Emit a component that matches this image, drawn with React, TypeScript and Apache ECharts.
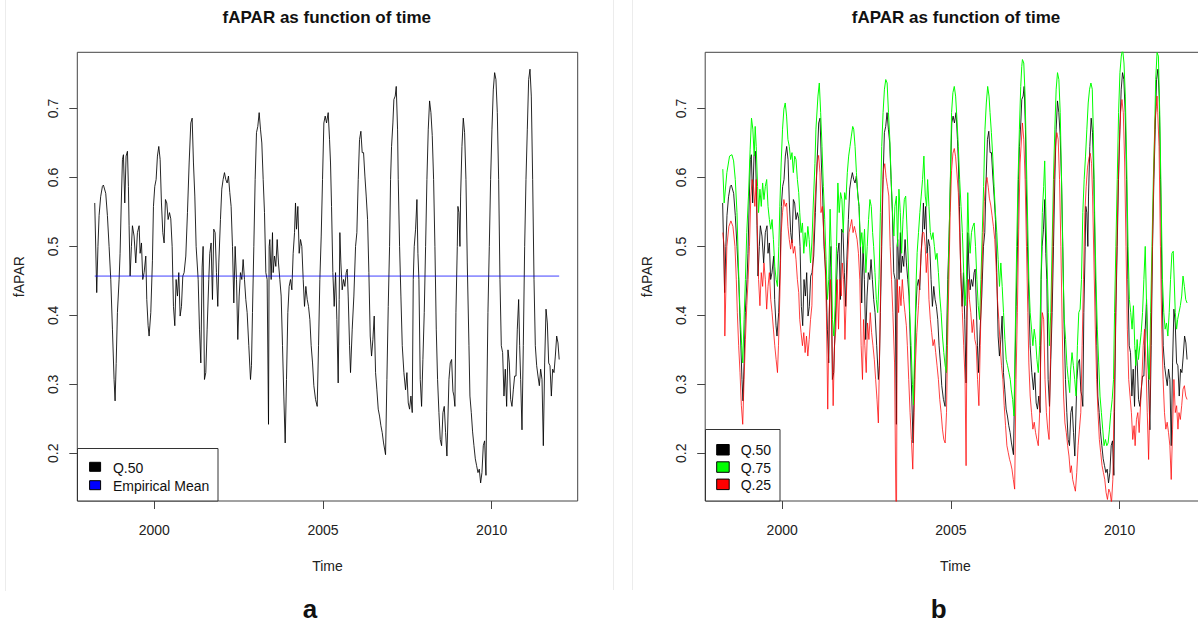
import React, { useEffect, useRef } from "react";
import * as echarts from "echarts";

// ---------- axis ticks / labels ----------
const X_TICKS = [2000, 2005, 2010];
const Y_TICKS = [0.2, 0.3, 0.4, 0.5, 0.6, 0.7];
const TITLE = "fAPAR as function of time";
const X_NAME = "Time";
const Y_NAME = "fAPAR";
const EMPIRICAL_MEAN = 0.457;

// ---------- Q.50 (median) : [time, fAPAR] ----------
const q50Part1: [number, number][] = [[1998.235,0.563],[1998.294,0.433],[1998.33,0.5],[1998.364,0.545],[1998.41,0.572],[1998.462,0.587],[1998.492,0.589],[1998.561,0.577],[1998.61,0.545],[1998.66,0.5],[1998.71,0.452],[1998.759,0.38],[1998.808,0.307],[1998.838,0.276],[1998.87,0.33],[1998.907,0.404],[1998.957,0.452],[1998.986,0.49],[1999.02,0.56],[1999.056,0.626],[1999.085,0.633],[1999.125,0.563],[1999.164,0.631],[1999.204,0.638],[1999.233,0.587],[1999.253,0.53],[1999.283,0.457],[1999.322,0.5],[1999.352,0.53],[1999.401,0.515],[1999.451,0.476],[1999.5,0.52],[1999.55,0.53],[1999.58,0.49],[1999.62,0.505],[1999.658,0.452],[1999.698,0.462],[1999.748,0.486],[1999.777,0.423],[1999.817,0.385],[1999.846,0.37],[1999.896,0.404],[1999.945,0.48],[1999.975,0.558],[2000.014,0.587],[2000.054,0.597],[2000.093,0.631],[2000.133,0.645],[2000.173,0.626],[2000.212,0.563],[2000.252,0.52],[2000.291,0.505],[2000.331,0.568],[2000.37,0.563],[2000.41,0.539],[2000.45,0.549],[2000.489,0.54],[2000.529,0.5],[2000.568,0.413],[2000.608,0.385],[2000.647,0.452],[2000.687,0.428],[2000.726,0.462],[2000.766,0.399],[2000.805,0.413],[2000.845,0.457],[2000.884,0.462],[2000.934,0.486],[2000.983,0.549],[2001.033,0.621],[2001.082,0.679],[2001.122,0.686],[2001.161,0.621],[2001.201,0.573],[2001.24,0.5],[2001.3,0.452],[2001.339,0.38],[2001.379,0.331],[2001.418,0.47],[2001.447,0.5],[2001.487,0.307]];
const q50Part2: [number, number][] = [[2001.526,0.317],[2001.566,0.38],[2001.615,0.452],[2001.645,0.49],[2001.684,0.505],[2001.724,0.423],[2001.763,0.525],[2001.803,0.52],[2001.842,0.462],[2001.882,0.413],[2001.912,0.476],[2001.961,0.539],[2002.0,0.583],[2002.04,0.597],[2002.08,0.607],[2002.119,0.597],[2002.159,0.592],[2002.198,0.602],[2002.238,0.578],[2002.277,0.558],[2002.317,0.5],[2002.357,0.418],[2002.396,0.5],[2002.436,0.452],[2002.475,0.365],[2002.515,0.428],[2002.554,0.462],[2002.594,0.452],[2002.633,0.481],[2002.673,0.452],[2002.712,0.423],[2002.752,0.404],[2002.801,0.356],[2002.851,0.307],[2002.88,0.327],[2002.91,0.404],[2002.95,0.5],[2002.989,0.597],[2003.029,0.665],[2003.068,0.674],[2003.108,0.694],[2003.147,0.67],[2003.187,0.65],[2003.227,0.597],[2003.266,0.549],[2003.306,0.462],[2003.345,0.452],[2003.385,0.242],[2003.404,0.5],[2003.424,0.51],[2003.464,0.452],[2003.503,0.52],[2003.523,0.462],[2003.562,0.486],[2003.602,0.471],[2003.642,0.51],[2003.681,0.476],[2003.721,0.452],[2003.76,0.428],[2003.8,0.356],[2003.839,0.283],[2003.879,0.215],[2003.918,0.307],[2003.958,0.404],[2003.997,0.442],[2004.037,0.452],[2004.077,0.437],[2004.116,0.49],[2004.156,0.52],[2004.185,0.563],[2004.215,0.525],[2004.255,0.558],[2004.294,0.49],[2004.334,0.51],[2004.373,0.5],[2004.413,0.452],[2004.452,0.413],[2004.492,0.442],[2004.532,0.423],[2004.571,0.413],[2004.611,0.394],[2004.65,0.356],[2004.69,0.331],[2004.729,0.298],[2004.779,0.278],[2004.828,0.268],[2004.868,0.356],[2004.907,0.452],[2004.947,0.515],[2004.986,0.597],[2005.026,0.679],[2005.065,0.689]];
const q50Part3: [number, number][] = [[2005.105,0.679],[2005.154,0.694],[2005.194,0.655],[2005.223,0.621],[2005.253,0.558],[2005.292,0.462],[2005.332,0.413],[2005.372,0.462],[2005.411,0.394],[2005.45,0.302],[2005.48,0.423],[2005.5,0.52],[2005.53,0.476],[2005.569,0.437],[2005.609,0.452],[2005.648,0.442],[2005.688,0.462],[2005.718,0.467],[2005.747,0.428],[2005.787,0.356],[2005.816,0.317],[2005.866,0.38],[2005.915,0.428],[2005.965,0.5],[2006.004,0.52],[2006.044,0.597],[2006.083,0.655],[2006.123,0.667],[2006.162,0.636],[2006.202,0.636],[2006.242,0.602],[2006.281,0.573],[2006.321,0.539],[2006.36,0.462],[2006.4,0.37],[2006.439,0.341],[2006.479,0.365],[2006.518,0.399],[2006.558,0.317],[2006.597,0.292],[2006.637,0.264],[2006.676,0.254],[2006.716,0.24],[2006.755,0.23],[2006.795,0.215],[2006.854,0.198],[2006.894,0.307],[2006.934,0.413],[2006.973,0.5],[2007.003,0.597],[2007.032,0.645],[2007.072,0.679],[2007.101,0.713],[2007.141,0.718],[2007.171,0.732],[2007.21,0.67],[2007.23,0.597],[2007.27,0.5],[2007.309,0.428],[2007.349,0.356],[2007.398,0.317],[2007.447,0.292],[2007.487,0.317],[2007.527,0.273],[2007.566,0.264],[2007.606,0.283],[2007.645,0.259],[2007.675,0.452],[2007.704,0.5],[2007.744,0.525],[2007.784,0.568],[2007.813,0.49],[2007.843,0.452],[2007.882,0.307],[2007.922,0.268],[2007.961,0.336],[2008.001,0.404],[2008.041,0.5],[2008.08,0.597],[2008.12,0.67],[2008.159,0.711],[2008.199,0.694],[2008.238,0.661],[2008.278,0.597],[2008.317,0.5],[2008.357,0.38],[2008.396,0.307],[2008.436,0.259],[2008.475,0.22],[2008.515,0.211],[2008.555,0.259],[2008.594,0.268],[2008.634,0.23],[2008.673,0.196],[2008.733,0.307],[2008.772,0.331]];
const q50Part4: [number, number][] = [[2008.812,0.336],[2008.851,0.29],[2008.881,0.283],[2008.91,0.268],[2008.94,0.404],[2008.98,0.5],[2008.999,0.558],[2009.029,0.549],[2009.059,0.5],[2009.079,0.573],[2009.118,0.645],[2009.158,0.686],[2009.197,0.665],[2009.237,0.597],[2009.276,0.476],[2009.326,0.356],[2009.355,0.283],[2009.395,0.259],[2009.434,0.231],[2009.474,0.211],[2009.514,0.192],[2009.553,0.182],[2009.593,0.172],[2009.632,0.177],[2009.672,0.157],[2009.711,0.172],[2009.751,0.211],[2009.79,0.218],[2009.83,0.168],[2009.85,0.26],[2009.889,0.404],[2009.929,0.5],[2009.968,0.597],[2010.008,0.67],[2010.047,0.727],[2010.087,0.752],[2010.126,0.742],[2010.166,0.694],[2010.206,0.597],[2010.245,0.452],[2010.285,0.356],[2010.324,0.346],[2010.364,0.283],[2010.403,0.322],[2010.443,0.268],[2010.483,0.35],[2010.522,0.331],[2010.562,0.278],[2010.601,0.268],[2010.641,0.292],[2010.68,0.312],[2010.72,0.312],[2010.759,0.38],[2010.799,0.423],[2010.829,0.356],[2010.858,0.307],[2010.898,0.234],[2010.937,0.356],[2010.977,0.5],[2011.016,0.597],[2011.056,0.67],[2011.095,0.742],[2011.135,0.757],[2011.174,0.718],[2011.214,0.597],[2011.254,0.452],[2011.293,0.356],[2011.333,0.327],[2011.372,0.312],[2011.412,0.298],[2011.451,0.322],[2011.491,0.307],[2011.53,0.211],[2011.57,0.331],[2011.61,0.409],[2011.649,0.389],[2011.689,0.331],[2011.728,0.327],[2011.768,0.283],[2011.807,0.322],[2011.847,0.317],[2011.886,0.341],[2011.926,0.37],[2011.965,0.36],[2012.0,0.336]];

// ---------- Q.75 ----------
const q75Part1: [number, number][] = [[1998.24,0.612],[1998.28,0.563],[1998.36,0.607],[1998.44,0.631],[1998.51,0.633],[1998.56,0.624],[1998.61,0.597],[1998.66,0.549],[1998.7,0.476],[1998.75,0.404],[1998.8,0.356],[1998.83,0.331],[1998.87,0.394],[1998.91,0.452],[1998.95,0.52],[1999.0,0.573],[1999.05,0.641],[1999.09,0.686],[1999.13,0.67],[1999.17,0.631],[1999.2,0.674],[1999.23,0.645],[1999.27,0.587],[1999.3,0.549],[1999.34,0.583],[1999.38,0.558],[1999.42,0.592],[1999.46,0.568],[1999.5,0.587],[1999.54,0.597],[1999.58,0.558],[1999.62,0.539],[1999.66,0.525],[1999.7,0.539],[1999.74,0.51],[1999.78,0.471],[1999.82,0.452],[1999.86,0.442],[1999.9,0.5],[1999.93,0.558],[1999.97,0.621],[2000.01,0.67],[2000.05,0.699],[2000.09,0.708],[2000.13,0.689],[2000.17,0.655],[2000.21,0.645],[2000.25,0.626],[2000.29,0.636],[2000.33,0.607],[2000.37,0.631],[2000.41,0.626],[2000.45,0.597],[2000.49,0.578],[2000.52,0.549],[2000.56,0.52],[2000.6,0.534],[2000.64,0.49],[2000.68,0.52],[2000.72,0.5],[2000.76,0.529],[2000.8,0.51],[2000.84,0.476],[2000.88,0.505],[2000.92,0.56]];
const q75Part2: [number, number][] = [[2000.97,0.62],[2001.0,0.67],[2001.06,0.718],[2001.1,0.737],[2001.14,0.694],[2001.18,0.645],[2001.22,0.587],[2001.26,0.539],[2001.3,0.481],[2001.34,0.423],[2001.38,0.452],[2001.42,0.554],[2001.45,0.5],[2001.49,0.394],[2001.53,0.37],[2001.57,0.414],[2001.61,0.5],[2001.65,0.592],[2001.69,0.549],[2001.73,0.578],[2001.77,0.568],[2001.81,0.52],[2001.85,0.578],[2001.89,0.568],[2001.93,0.607],[2001.97,0.631],[2002.01,0.645],[2002.05,0.66],[2002.09,0.674],[2002.12,0.67],[2002.16,0.645],[2002.2,0.607],[2002.24,0.573],[2002.28,0.558],[2002.32,0.5],[2002.36,0.52],[2002.4,0.49],[2002.44,0.525],[2002.48,0.462],[2002.52,0.5],[2002.56,0.539],[2002.6,0.568],[2002.64,0.558],[2002.68,0.52],[2002.71,0.5],[2002.75,0.462],[2002.79,0.423],[2002.83,0.404],[2002.87,0.452],[2002.91,0.549],[2002.95,0.645],[2002.99,0.694],[2003.03,0.728],[2003.07,0.742],[2003.11,0.737],[2003.15,0.694],[2003.19,0.655],[2003.23,0.597],[2003.27,0.549],[2003.31,0.515],[2003.34,0.558],[2003.385,0.573],[2003.42,0.5],[2003.46,0.583],[2003.5,0.549],[2003.54,0.49],[2003.58,0.539],[2003.62,0.568],[2003.66,0.573],[2003.7,0.525],[2003.74,0.476],[2003.78,0.404],[2003.82,0.356],[2003.86,0.3],[2003.89,0.27],[2003.93,0.36],[2003.97,0.45]];
const q75Part3: [number, number][] = [[2004.0,0.491],[2004.04,0.52],[2004.08,0.549],[2004.12,0.573],[2004.16,0.597],[2004.2,0.631],[2004.24,0.573],[2004.28,0.558],[2004.31,0.597],[2004.35,0.558],[2004.39,0.52],[2004.43,0.51],[2004.47,0.52],[2004.51,0.5],[2004.55,0.481],[2004.59,0.49],[2004.63,0.462],[2004.67,0.428],[2004.71,0.404],[2004.75,0.37],[2004.79,0.346],[2004.83,0.327],[2004.87,0.317],[2004.9,0.404],[2004.94,0.5],[2004.98,0.587],[2005.02,0.694],[2005.06,0.723],[2005.1,0.732],[2005.14,0.718],[2005.18,0.684],[2005.22,0.645],[2005.26,0.597],[2005.3,0.558],[2005.34,0.52],[2005.38,0.462],[2005.42,0.414],[2005.46,0.452],[2005.5,0.578],[2005.53,0.52],[2005.57,0.49],[2005.61,0.52],[2005.65,0.529],[2005.69,0.534],[2005.73,0.5],[2005.77,0.452],[2005.81,0.414],[2005.85,0.394],[2005.89,0.452],[2005.93,0.52],[2005.97,0.587],[2006.01,0.67],[2006.05,0.708],[2006.09,0.732],[2006.13,0.718],[2006.16,0.694],[2006.2,0.665],[2006.24,0.631],[2006.28,0.587],[2006.32,0.549],[2006.36,0.52],[2006.4,0.481],[2006.44,0.442],[2006.48,0.476],[2006.52,0.442],[2006.56,0.404],[2006.6,0.365],[2006.64,0.336],[2006.68,0.327],[2006.72,0.317],[2006.76,0.307],[2006.79,0.292],[2006.83,0.278],[2006.87,0.254],[2006.91,0.38],[2006.95,0.5],[2006.99,0.597],[2007.03,0.67],[2007.07,0.732],[2007.1,0.761]];
const q75Part4: [number, number][] = [[2007.12,0.771],[2007.16,0.766],[2007.2,0.718],[2007.24,0.621],[2007.28,0.525],[2007.31,0.452],[2007.35,0.404],[2007.39,0.38],[2007.43,0.356],[2007.47,0.38],[2007.51,0.365],[2007.55,0.336],[2007.59,0.317],[2007.63,0.356],[2007.67,0.452],[2007.71,0.549],[2007.75,0.587],[2007.78,0.624],[2007.81,0.558],[2007.85,0.476],[2007.89,0.404],[2007.92,0.356],[2007.96,0.404],[2008.0,0.5],[2008.04,0.597],[2008.08,0.67],[2008.12,0.728],[2008.16,0.752],[2008.2,0.742],[2008.24,0.694],[2008.28,0.597],[2008.32,0.476],[2008.36,0.394],[2008.4,0.365],[2008.44,0.327],[2008.48,0.307],[2008.52,0.288],[2008.55,0.322],[2008.59,0.346],[2008.63,0.327],[2008.67,0.307],[2008.71,0.283],[2008.75,0.356],[2008.79,0.404],[2008.83,0.409],[2008.87,0.452],[2008.91,0.549],[2008.95,0.597],[2008.99,0.631],[2009.03,0.67],[2009.07,0.708],[2009.11,0.728],[2009.15,0.737],[2009.19,0.728],[2009.22,0.67],[2009.26,0.549],[2009.3,0.452],[2009.34,0.38],[2009.38,0.331],[2009.42,0.283],[2009.46,0.259],[2009.5,0.235],[2009.54,0.211],[2009.58,0.22],[2009.62,0.211],[2009.66,0.215],[2009.7,0.235],[2009.74,0.259],[2009.78,0.278],[2009.82,0.307],[2009.85,0.404],[2009.89,0.5],[2009.93,0.597],[2009.97,0.694],[2010.01,0.752],[2010.05,0.776],[2010.09,0.786],[2010.13,0.766],[2010.17,0.718],[2010.21,0.621],[2010.25,0.5],[2010.29,0.423],[2010.33,0.404],[2010.37,0.38],[2010.41,0.414],[2010.45,0.356],[2010.48,0.327],[2010.52,0.365],[2010.56,0.336],[2010.6,0.356],[2010.64,0.375],[2010.68,0.404],[2010.72,0.452],[2010.76,0.5],[2010.8,0.414],[2010.84,0.331],[2010.88,0.307],[2010.92,0.404],[2010.96,0.5],[2011.0,0.597],[2011.04,0.67],[2011.07,0.742],[2011.11,0.781],[2011.15,0.776],[2011.19,0.694],[2011.23,0.573],[2011.27,0.452],[2011.31,0.404],[2011.35,0.38],[2011.39,0.389],[2011.43,0.37],[2011.47,0.404],[2011.51,0.452],[2011.55,0.49],[2011.59,0.493],[2011.65,0.404],[2011.69,0.38],[2011.72,0.394],[2011.76,0.404],[2011.8,0.414],[2011.84,0.428],[2011.88,0.457],[2011.92,0.442],[2011.96,0.423],[2012.0,0.418]];

// ---------- Q.25 ----------
const q25Part1: [number, number][] = [[1998.24,0.52],[1998.28,0.5],[1998.3,0.37],[1998.36,0.5],[1998.42,0.529],[1998.48,0.537],[1998.54,0.529],[1998.6,0.5],[1998.64,0.452],[1998.67,0.404],[1998.71,0.356],[1998.75,0.317],[1998.79,0.269],[1998.83,0.242],[1998.87,0.307],[1998.91,0.365],[1998.95,0.414],[1998.99,0.452],[1999.03,0.5],[1999.07,0.573],[1999.11,0.597],[1999.15,0.587],[1999.19,0.558],[1999.23,0.597],[1999.27,0.51],[1999.3,0.452],[1999.34,0.414],[1999.38,0.462],[1999.42,0.442],[1999.46,0.476],[1999.5,0.452],[1999.54,0.409],[1999.58,0.442],[1999.62,0.462],[1999.66,0.423],[1999.7,0.404],[1999.74,0.38],[1999.78,0.356],[1999.82,0.336],[1999.86,0.317],[1999.89,0.356],[1999.93,0.428],[1999.97,0.52],[2000.01,0.549],[2000.05,0.568],[2000.09,0.558],[2000.13,0.563],[2000.17,0.529],[2000.21,0.51],[2000.25,0.496],[2000.29,0.51],[2000.33,0.49],[2000.37,0.5],[2000.41,0.481],[2000.45,0.452],[2000.49,0.433],[2000.52,0.394],[2000.56,0.375],[2000.6,0.356],[2000.64,0.375],[2000.68,0.346],[2000.72,0.37],[2000.76,0.341],[2000.8,0.365],[2000.84,0.394]];
const q25Part2: [number, number][] = [[2000.88,0.414],[2000.92,0.5],[2000.98,0.573],[2001.04,0.621],[2001.08,0.632],[2001.12,0.607],[2001.15,0.549],[2001.19,0.558],[2001.23,0.52],[2001.27,0.481],[2001.31,0.404],[2001.35,0.264],[2001.39,0.404],[2001.43,0.452],[2001.47,0.38],[2001.51,0.269],[2001.55,0.356],[2001.59,0.38],[2001.63,0.452],[2001.67,0.38],[2001.71,0.452],[2001.75,0.428],[2001.78,0.476],[2001.82,0.452],[2001.86,0.365],[2001.9,0.428],[2001.94,0.481],[2001.98,0.52],[2002.02,0.529],[2002.06,0.539],[2002.1,0.52],[2002.14,0.529],[2002.18,0.52],[2002.22,0.51],[2002.26,0.49],[2002.3,0.452],[2002.34,0.356],[2002.38,0.307],[2002.41,0.394],[2002.45,0.356],[2002.49,0.317],[2002.53,0.389],[2002.57,0.365],[2002.61,0.404],[2002.65,0.375],[2002.69,0.356],[2002.73,0.336],[2002.77,0.307],[2002.81,0.278],[2002.85,0.244],[2002.89,0.356],[2002.93,0.476],[2002.97,0.573],[2003.0,0.61],[2003.04,0.62],[2003.08,0.6],[2003.12,0.587],[2003.16,0.573],[2003.2,0.5],[2003.24,0.452],[2003.28,0.404],[2003.33,0.331],[2003.385,0.05],[2003.41,0.452],[2003.45,0.404],[2003.48,0.442],[2003.52,0.414],[2003.56,0.452],[2003.6,0.423],[2003.64,0.404],[2003.68,0.385],[2003.71,0.356],[2003.75,0.307],[2003.79,0.259],[2003.83,0.22],[2003.87,0.177],[2003.91,0.259],[2003.95,0.331],[2003.99,0.375]];
const q25Part3: [number, number][] = [[2004.04,0.414],[2004.08,0.452],[2004.12,0.491],[2004.16,0.52],[2004.2,0.52],[2004.24,0.5],[2004.27,0.462],[2004.31,0.49],[2004.35,0.423],[2004.39,0.394],[2004.43,0.375],[2004.47,0.356],[2004.51,0.365],[2004.55,0.346],[2004.59,0.327],[2004.63,0.307],[2004.67,0.278],[2004.71,0.259],[2004.75,0.235],[2004.79,0.22],[2004.83,0.215],[2004.87,0.259],[2004.9,0.356],[2004.94,0.452],[2004.98,0.549],[2005.02,0.61],[2005.06,0.635],[2005.1,0.642],[2005.14,0.63],[2005.18,0.605],[2005.22,0.578],[2005.26,0.52],[2005.3,0.452],[2005.34,0.404],[2005.38,0.356],[2005.42,0.307],[2005.45,0.182],[2005.48,0.404],[2005.52,0.452],[2005.55,0.423],[2005.59,0.404],[2005.63,0.375],[2005.67,0.394],[2005.71,0.365],[2005.75,0.356],[2005.79,0.307],[2005.83,0.269],[2005.87,0.356],[2005.91,0.452],[2005.95,0.51],[2005.99,0.565],[2006.03,0.59],[2006.07,0.6],[2006.11,0.585],[2006.14,0.57],[2006.18,0.56],[2006.22,0.545],[2006.26,0.529],[2006.3,0.51],[2006.34,0.471],[2006.38,0.423],[2006.42,0.394],[2006.46,0.356],[2006.5,0.327],[2006.54,0.307],[2006.58,0.269],[2006.62,0.24],[2006.66,0.211],[2006.7,0.201],[2006.74,0.191],[2006.77,0.186],[2006.81,0.177],[2006.85,0.162],[2006.89,0.148],[2006.93,0.307],[2006.97,0.404],[2007.01,0.525],[2007.05,0.621]];
const q25Part4: [number, number][] = [[2007.12,0.679],[2007.16,0.655],[2007.2,0.597],[2007.24,0.5],[2007.28,0.404],[2007.31,0.331],[2007.35,0.283],[2007.39,0.259],[2007.43,0.235],[2007.47,0.245],[2007.51,0.23],[2007.55,0.22],[2007.59,0.211],[2007.63,0.259],[2007.67,0.356],[2007.71,0.404],[2007.75,0.394],[2007.79,0.307],[2007.83,0.259],[2007.87,0.235],[2007.91,0.22],[2007.94,0.307],[2007.98,0.404],[2008.02,0.5],[2008.06,0.597],[2008.1,0.645],[2008.14,0.665],[2008.18,0.655],[2008.22,0.597],[2008.26,0.5],[2008.3,0.38],[2008.34,0.283],[2008.38,0.244],[2008.42,0.23],[2008.46,0.211],[2008.5,0.196],[2008.54,0.172],[2008.57,0.182],[2008.61,0.162],[2008.65,0.153],[2008.69,0.145],[2008.73,0.172],[2008.77,0.211],[2008.81,0.235],[2008.85,0.259],[2008.89,0.356],[2008.93,0.452],[2008.97,0.549],[2009.01,0.587],[2009.05,0.615],[2009.09,0.628],[2009.13,0.635],[2009.17,0.62],[2009.2,0.573],[2009.24,0.476],[2009.28,0.38],[2009.32,0.307],[2009.36,0.259],[2009.4,0.22],[2009.44,0.201],[2009.48,0.182],[2009.52,0.172],[2009.56,0.162],[2009.6,0.143],[2009.64,0.133],[2009.68,0.148],[2009.72,0.143],[2009.76,0.128],[2009.8,0.162],[2009.83,0.259],[2009.87,0.356],[2009.91,0.476],[2009.95,0.573],[2009.99,0.645],[2010.03,0.694],[2010.07,0.713],[2010.11,0.694],[2010.15,0.621],[2010.19,0.5],[2010.23,0.38],[2010.27,0.307],[2010.31,0.283],[2010.35,0.259],[2010.39,0.22],[2010.43,0.24],[2010.46,0.211],[2010.5,0.249],[2010.54,0.259],[2010.58,0.23],[2010.62,0.269],[2010.66,0.307],[2010.7,0.356],[2010.74,0.38],[2010.78,0.331],[2010.82,0.259],[2010.86,0.191],[2010.9,0.283],[2010.94,0.404],[2010.98,0.525],[2011.02,0.621],[2011.05,0.684],[2011.09,0.703],[2011.11,0.718],[2011.13,0.694],[2011.17,0.645],[2011.21,0.5],[2011.25,0.38],[2011.29,0.307],[2011.33,0.259],[2011.37,0.235],[2011.41,0.245],[2011.45,0.23],[2011.49,0.211],[2011.53,0.162],[2011.57,0.235],[2011.61,0.307],[2011.65,0.259],[2011.69,0.269],[2011.73,0.235],[2011.76,0.259],[2011.8,0.249],[2011.84,0.269],[2011.88,0.293],[2011.92,0.298],[2011.96,0.283],[2012.0,0.278]];

const q50 = [...q50Part1, ...q50Part2, ...q50Part3, ...q50Part4];
const q75 = [...q75Part1, ...q75Part2, ...q75Part3, ...q75Part4];
const q25 = [...q25Part1, ...q25Part2, ...q25Part3, ...q25Part4];

// ---------- layout / style (not data) ----------
const FONT = '"Liberation Sans", Arial, Helvetica, sans-serif';
const X_MIN = 1997.718;
const X_MAX = 2012.549;
const Y_MIN = 0.1308;
const Y_MAX = 0.7815;
const GRID_TOP = 52.3;
const GRID_H = 448.7;
const GRID_W = 500.4;
const LEFT_A = 77.3;
const LEFT_B = 705.2;
const INK = "#222";

function makeX(gridIndex: number) {
  return {
    type: "value",
    gridIndex,
    min: X_MIN,
    max: X_MAX,
    axisLine: { show: false },
    axisTick: { show: true, length: 8, customValues: X_TICKS, lineStyle: { color: "#444", width: 1 } },
    axisLabel: {
      show: true,
      customValues: X_TICKS,
      fontSize: 14,
      color: INK,
      margin: 22,
      fontFamily: FONT,
      formatter: (v: number) => String(Math.round(v)),
    },
    splitLine: { show: false },
    name: X_NAME,
    nameLocation: "middle",
    nameGap: 58,
    nameTextStyle: { fontSize: 14, color: INK, fontFamily: FONT },
  };
}

function makeY(gridIndex: number) {
  return {
    type: "value",
    gridIndex,
    min: Y_MIN,
    max: Y_MAX,
    axisLine: { show: false },
    axisTick: { show: true, length: 8, customValues: Y_TICKS, lineStyle: { color: "#444", width: 1 } },
    axisLabel: {
      show: true,
      customValues: Y_TICKS,
      rotate: 90,
      fontSize: 14,
      color: INK,
      margin: 17,
      fontFamily: FONT,
      formatter: (v: number) => v.toFixed(1),
    },
    splitLine: { show: false },
    name: Y_NAME,
    nameLocation: "middle",
    nameGap: 51,
    nameRotate: 90,
    nameTextStyle: { fontSize: 14, color: INK, fontFamily: FONT },
  };
}

function txt(text: string, x: number, y: number, size: number, weight = "normal", align = "left", vAlign = "middle") {
  return {
    type: "text",
    x,
    y,
    z: 100,
    style: {
      text,
      fontSize: size,
      fontWeight: weight,
      fontFamily: FONT,
      fill: "#111",
      textAlign: align,
      textVerticalAlign: vAlign,
    },
  };
}

function box(x: number, y: number, w: number, h: number, fill: string, stroke = "#333") {
  return { type: "rect", z: 100, shape: { x, y, width: w, height: h }, style: { fill, stroke, lineWidth: 1 } };
}

function vline(x: number, y1: number, y2: number) {
  return { type: "line", z: 1, shape: { x1: x, y1, x2: x, y2 }, style: { stroke: "#ececec", lineWidth: 1 } };
}

function lineSeries(name: string, data: [number, number][], color: string, idx: number, opacity = 1) {
  return {
    type: "line",
    name,
    xAxisIndex: idx,
    yAxisIndex: idx,
    data,
    showSymbol: false,
    symbol: "none",
    clip: true,
    silent: true,
    lineStyle: { color, width: 1, opacity },
    itemStyle: { color },
  };
}

export default function App() {
  const ref = useRef<HTMLDivElement>(null);

  useEffect(() => {
    document.body.style.margin = "0";
    const chart = echarts.init(ref.current as HTMLDivElement, null, { renderer: "svg" });

    const meanLine: [number, number][] = [
      [q50[0][0], EMPIRICAL_MEAN],
      [q50[q50.length - 1][0], EMPIRICAL_MEAN],
    ];

    const option: any = {
      animation: false,
      backgroundColor: "#fff",
      textStyle: { fontFamily: FONT },
      grid: [
        { left: LEFT_A, top: GRID_TOP, width: GRID_W, height: GRID_H, show: true, borderColor: "#444", borderWidth: 1, backgroundColor: "transparent", containLabel: false, outerBoundsMode: "none" },
        { left: LEFT_B, top: GRID_TOP, width: GRID_W, height: GRID_H, show: true, borderColor: "#444", borderWidth: 1, backgroundColor: "transparent", containLabel: false, outerBoundsMode: "none" },
      ],
      xAxis: [makeX(0), makeX(1)],
      yAxis: [makeY(0), makeY(1)],
      series: [
        lineSeries("Q.50", q50, "#000", 0, 0.85),
        lineSeries("Empirical Mean", meanLine, "#0000ff", 0, 0.75),
        lineSeries("Q.50", q50, "#000", 1, 0.85),
        lineSeries("Q.75", q75, "#00ff00", 1),
        lineSeries("Q.25", q25, "#ff0000", 1, 0.75),
      ],
      graphic: [
        vline(5.5, 0, 591),
        vline(613.5, 0, 590),
        vline(632.5, 0, 590),
        txt(TITLE, 326.8, 17.5, 17, "bold", "center"),
        txt(TITLE, 956, 17.5, 17, "bold", "center"),
        txt("a", 310, 622, 26, "bold", "center", "bottom"),
        txt("b", 938.7, 622, 26, "bold", "center", "bottom"),
        // legend a
        box(77.5, 448.5, 140.5, 52.5, "#fff"),
        box(89.6, 462.3, 11, 9, "#000", "#000"),
        box(89.6, 480.7, 11, 9, "#0000ff", "#000"),
        txt("Q.50", 112.9, 467.5, 14),
        txt("Empirical Mean", 112.9, 485.7, 14),
        // legend b
        box(705.5, 429.5, 74.5, 71.5, "#fff"),
        box(716.7, 444.5, 12.5, 10.5, "#000", "#000"),
        box(716.7, 461.8, 12.5, 10.5, "#00ff00", "#000"),
        box(716.7, 479.1, 12.5, 10.5, "#ff0000", "#000"),
        txt("Q.50", 740.7, 450.3, 14),
        txt("Q.75", 740.7, 467.6, 14),
        txt("Q.25", 740.7, 484.9, 14),
      ],
    };

    chart.setOption(option);
    return () => chart.dispose();
  }, []);

  return (
    <div
      ref={ref}
      style={{ position: "absolute", left: 0, top: 0, width: 1198, height: 623, background: "#fff" }}
    />
  );
}
